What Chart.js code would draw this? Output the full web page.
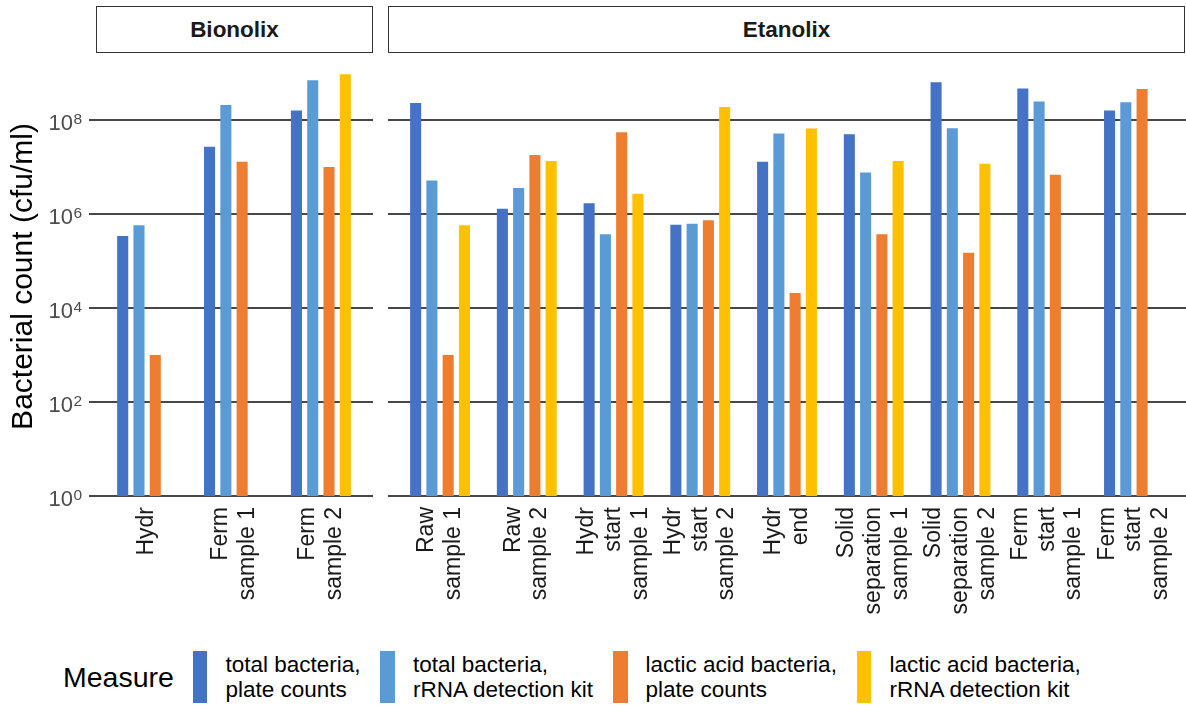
<!DOCTYPE html>
<html>
<head>
<meta charset="utf-8">
<script src="https://cdn.jsdelivr.net/npm/chart.js@4.4.1/dist/chart.umd.min.js"></script>
<style>
  html, body { margin: 0; padding: 0; background: #ffffff; }
  #wrap { position: relative; width: 1186px; height: 708px; overflow: hidden; font-family: "Liberation Sans", Arial, sans-serif; }
  canvas { position: absolute; top: 0; }
  .strip { position: absolute; top: 6px; height: 47px; box-sizing: border-box; border: 1.5px solid #333333; background: #ffffff;
           display: flex; align-items: center; justify-content: center; font-weight: bold; font-size: 22.5px; color: #1a1a1a; }
  #legend { position: absolute; left: 63px; top: 650px; height: 54px; display: flex; align-items: center; color: #000; }
  #legend .ttl { font-size: 28.5px; margin-right: 19px; }
  #legend .key { width: 14.5px; height: 52px; margin-right: 18px; flex: none; }
  #legend .txt { font-size: 22.5px; line-height: 25px; margin-right: 20px; white-space: nowrap; }
</style>
</head>
<body>
<div id="wrap">
  <canvas id="cB" width="373" height="640" style="left:0px"></canvas>
  <canvas id="cE" width="806" height="640" style="left:380px"></canvas>
  <div class="strip" id="sB" style="left:96px; width:277px;"></div>
  <div class="strip" id="sE" style="left:388px; width:797px;"></div>
  <div id="legend"></div>
</div>
<script>
// ---------------- data ----------------
const facetNames = ["Bionolix", "Etanolix"];
const legendTitle = "Measure";
const yAxisTitle = "Bacterial count (cfu/ml)";
const seriesLabels = [
  "total bacteria,\nplate counts",
  "total bacteria,\nrRNA detection kit",
  "lactic acid bacteria,\nplate counts",
  "lactic acid bacteria,\nrRNA detection kit"
];
const seriesColors = ["#4472C4", "#5B9BD5", "#ED7D31", "#FFC000"];

const bionolixCategories = [["Hydr"], ["Ferm", "sample 1"], ["Ferm", "sample 2"]];
const etanolixCategories = [
  ["Raw", "sample 1"], ["Raw", "sample 2"],
  ["Hydr", "start", "sample 1"], ["Hydr", "start", "sample 2"],
  ["Hydr", "end"],
  ["Solid", "separation", "sample 1"], ["Solid", "separation", "sample 2"],
  ["Ferm", "start", "sample 1"], ["Ferm", "start", "sample 2"]
];

const bionolixTotalPlate   = [3.4e5, 2.7e7, 1.6e8];
const bionolixTotalRRNA    = [5.8e5, 2.1e8, 7.0e8];
const bionolixLacticPlate  = [1.0e3, 1.3e7, 1.0e7];
const bionolixLacticRRNA   = [null, null, 9.5e8];

const etanolixTotalPlate   = [2.3e8, 1.3e6, 1.7e6, 5.9e5, 1.3e7, 5.0e7, 6.4e8, 4.7e8, 1.6e8];
const etanolixTotalRRNA    = [5.2e6, 3.6e6, 3.7e5, 6.2e5, 5.2e7, 7.7e6, 6.7e7, 2.5e8, 2.4e8];
const etanolixLacticPlate  = [1.0e3, 1.8e7, 5.5e7, 7.4e5, 2.1e4, 3.7e5, 1.5e5, 6.9e6, 4.6e8];
const etanolixLacticRRNA   = [5.8e5, 1.35e7, 2.7e6, 1.9e8, 6.6e7, 1.35e7, 1.18e7, null, null];

const yTickValues = [1, 1e2, 1e4, 1e6, 1e8];
const yMin = 1;
const yMax = 2.2e9;

// ---------------- rendering ----------------
const FAMILY = '"Liberation Sans", Arial, sans-serif';
Chart.defaults.font.family = FAMILY;

function makeLabelPlugin(categories, showYAxis) {
  return {
    id: "axisLabels",
    afterDraw(chart) {
      const xs = chart.scales.x, ys = chart.scales.y, ctx = chart.ctx;
      // x category labels (multi-line, rotated, centred on the tick)
      const y0 = chart.chartArea.bottom + 11;
      const lh = 26.7;
      ctx.save();
      ctx.font = "23px " + FAMILY;
      ctx.fillStyle = "#1a1a1a";
      ctx.textAlign = "right";
      ctx.textBaseline = "middle";
      categories.forEach((lines, i) => {
        const x = xs.getPixelForValue(i);
        ctx.save();
        ctx.translate(x, y0);
        ctx.rotate(-Math.PI / 2);
        lines.forEach((ln, j) => ctx.fillText(ln, 0, (j - (lines.length - 1) / 2) * lh));
        ctx.restore();
      });
      ctx.restore();
      // y tick labels as 10 with a superscript exponent
      if (showYAxis) {
        ctx.save();
        ctx.fillStyle = "#4d4d4d";
        ctx.textAlign = "left";
        ctx.textBaseline = "alphabetic";
        const right = ys.left + ys.width - 13;
        ys.ticks.forEach(t => {
          const y = ys.getPixelForValue(t.value);
          const exp = String(Math.round(Math.log10(t.value)));
          ctx.font = "15.5px " + FAMILY;
          const ew = ctx.measureText(exp).width;
          ctx.fillText(exp, right - ew, y + 3.5);
          ctx.font = "22px " + FAMILY;
          const bw = ctx.measureText("10").width;
          ctx.fillText("10", right - ew - bw - 0.5, y + 9.5);
        });
        ctx.restore();
      }
    }
  };
}

function makeChart(canvasId, categories, seriesValues, showYAxis) {
  const datasets = seriesValues.map((vals, k) => ({
    label: seriesLabels[k],
    data: vals.map((v, i) => ({ x: i, y: v })),
    backgroundColor: seriesColors[k],
    borderWidth: 0,
    barPercentage: 0.68,
    categoryPercentage: 0.75
  }));
  const yScale = {
    type: "logarithmic",
    min: yMin,
    max: yMax,
    afterBuildTicks: s => { s.ticks = yTickValues.map(v => ({ value: v })); },
    afterFit: s => { s.width = showYAxis ? 95 : 8; },
    border: { display: false },
    grid: {
      color: "#474747", lineWidth: 2,
      drawTicks: showYAxis, tickLength: 6, tickColor: "#474747", tickWidth: 2
    },
    ticks: { display: false },
    title: {
      display: showYAxis, text: yAxisTitle, color: "#000000",
      font: { size: 30 }, padding: { top: 6, bottom: 0 }
    }
  };
  const xScale = {
    type: "linear",
    min: -0.6,
    max: categories.length - 1 + 0.6,
    offset: false,
    afterBuildTicks: s => { s.ticks = categories.map((c, i) => ({ value: i })); },
    afterFit: s => { s.height = 144; },
    border: { display: false },
    grid: { display: false, offset: false },
    ticks: { display: false }
  };
  return new Chart(document.getElementById(canvasId), {
    type: "bar",
    data: { datasets },
    options: {
      responsive: false,
      animation: false,
      devicePixelRatio: 1,
      events: [],
      layout: { padding: { top: 57, left: 0, right: 0, bottom: 0 } },
      plugins: { legend: { display: false }, tooltip: { enabled: false } },
      scales: { x: xScale, y: yScale }
    },
    plugins: [makeLabelPlugin(categories, showYAxis)]
  });
}

makeChart("cB", bionolixCategories,
  [bionolixTotalPlate, bionolixTotalRRNA, bionolixLacticPlate, bionolixLacticRRNA], true);
makeChart("cE", etanolixCategories,
  [etanolixTotalPlate, etanolixTotalRRNA, etanolixLacticPlate, etanolixLacticRRNA], false);

document.getElementById("sB").textContent = facetNames[0];
document.getElementById("sE").textContent = facetNames[1];

// legend
const leg = document.getElementById("legend");
const t = document.createElement("div");
t.className = "ttl"; t.textContent = legendTitle; leg.appendChild(t);
seriesLabels.forEach((lab, k) => {
  const key = document.createElement("div");
  key.className = "key"; key.style.background = seriesColors[k];
  leg.appendChild(key);
  const txt = document.createElement("div");
  txt.className = "txt";
  lab.split("\n").forEach((ln, j) => {
    if (j) txt.appendChild(document.createElement("br"));
    txt.appendChild(document.createTextNode(ln));
  });
  leg.appendChild(txt);
});
</script>
</body>
</html>
